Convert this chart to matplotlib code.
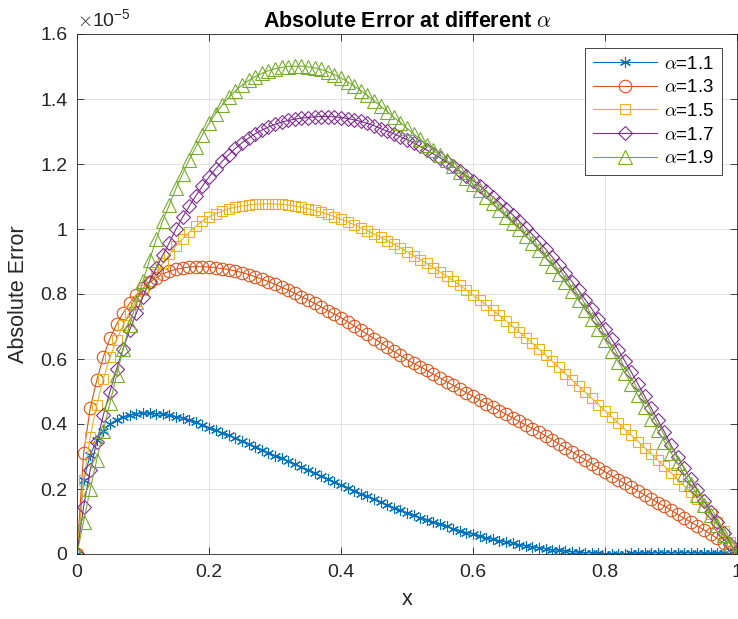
import matplotlib
matplotlib.use("Agg")
import matplotlib.pyplot as plt
import numpy as np

# x grid and absolute error values (in units of 1e-5)
x = np.linspace(0, 1, 101)
scale = 1e-5

err_11 = [
    0.000, 0.228, 0.305, 0.350, 0.380, 0.400, 0.413, 0.422, 0.428, 0.431,
    0.433, 0.433, 0.432, 0.430, 0.427, 0.423, 0.418, 0.412, 0.405, 0.397,
    0.389, 0.381, 0.373, 0.365, 0.356, 0.347, 0.339, 0.330, 0.321, 0.312,
    0.303, 0.294, 0.285, 0.276, 0.267, 0.258, 0.249, 0.240, 0.231, 0.222,
    0.213, 0.204, 0.195, 0.186, 0.177, 0.168, 0.160, 0.151, 0.143, 0.135,
    0.127, 0.119, 0.112, 0.105, 0.098, 0.091, 0.085, 0.078, 0.072, 0.066,
    0.061, 0.055, 0.050, 0.045, 0.041, 0.037, 0.033, 0.029, 0.025, 0.022,
    0.019, 0.016, 0.013, 0.011, 0.009, 0.007, 0.005, 0.004, 0.003, 0.002,
    0.001, 0.001, 0.001, 0.001, 0.002, 0.002, 0.002, 0.003, 0.003, 0.003,
    0.003, 0.003, 0.003, 0.003, 0.003, 0.002, 0.002, 0.002, 0.002, 0.001,
    0.000,
]
err_13 = [
    0.000, 0.310, 0.448, 0.535, 0.607, 0.664, 0.707, 0.742, 0.772, 0.797,
    0.818, 0.836, 0.850, 0.862, 0.870, 0.876, 0.880, 0.883, 0.884, 0.884,
    0.883, 0.881, 0.878, 0.875, 0.871, 0.866, 0.860, 0.853, 0.846, 0.838,
    0.830, 0.821, 0.812, 0.802, 0.792, 0.782, 0.771, 0.760, 0.749, 0.738,
    0.727, 0.715, 0.702, 0.689, 0.676, 0.663, 0.650, 0.637, 0.624, 0.611,
    0.598, 0.587, 0.576, 0.565, 0.553, 0.542, 0.530, 0.519, 0.508, 0.496,
    0.485, 0.474, 0.463, 0.452, 0.441, 0.430, 0.419, 0.408, 0.397, 0.386,
    0.376, 0.364, 0.352, 0.339, 0.327, 0.315, 0.302, 0.290, 0.278, 0.265,
    0.253, 0.241, 0.229, 0.217, 0.206, 0.194, 0.182, 0.170, 0.158, 0.147,
    0.135, 0.122, 0.110, 0.098, 0.086, 0.074, 0.061, 0.048, 0.034, 0.018,
    0.000,
]
err_15 = [
    0.000, 0.228, 0.360, 0.460, 0.540, 0.605, 0.660, 0.705, 0.745, 0.780,
    0.812, 0.840, 0.862, 0.894, 0.922, 0.948, 0.970, 0.990, 1.008, 1.024,
    1.037, 1.047, 1.055, 1.062, 1.067, 1.071, 1.074, 1.076, 1.077, 1.078,
    1.077, 1.076, 1.074, 1.071, 1.067, 1.062, 1.057, 1.051, 1.045, 1.038,
    1.030, 1.022, 1.013, 1.004, 0.995, 0.985, 0.975, 0.964, 0.953, 0.942,
    0.930, 0.918, 0.906, 0.894, 0.881, 0.868, 0.855, 0.841, 0.827, 0.812,
    0.797, 0.782, 0.766, 0.750, 0.734, 0.717, 0.700, 0.683, 0.666, 0.648,
    0.630, 0.612, 0.593, 0.574, 0.555, 0.536, 0.517, 0.498, 0.479, 0.460,
    0.441, 0.422, 0.403, 0.384, 0.365, 0.346, 0.327, 0.308, 0.289, 0.270,
    0.250, 0.230, 0.210, 0.190, 0.168, 0.145, 0.124, 0.100, 0.070, 0.037,
    0.000,
]
err_17 = [
    0.000, 0.146, 0.258, 0.346, 0.428, 0.500, 0.570, 0.632, 0.690, 0.742,
    0.792, 0.838, 0.880, 0.920, 0.958, 1.000, 1.036, 1.070, 1.102, 1.132,
    1.160, 1.185, 1.208, 1.229, 1.248, 1.265, 1.280, 1.293, 1.304, 1.314,
    1.322, 1.329, 1.334, 1.338, 1.341, 1.343, 1.345, 1.346, 1.346, 1.345,
    1.343, 1.340, 1.336, 1.331, 1.325, 1.318, 1.309, 1.301, 1.293, 1.284,
    1.275, 1.265, 1.254, 1.243, 1.231, 1.219, 1.206, 1.193, 1.179, 1.164,
    1.149, 1.133, 1.116, 1.099, 1.081, 1.063, 1.044, 1.024, 1.004, 0.983,
    0.961, 0.938, 0.914, 0.890, 0.864, 0.838, 0.811, 0.783, 0.754, 0.724,
    0.693, 0.661, 0.628, 0.594, 0.559, 0.523, 0.486, 0.449, 0.412, 0.376,
    0.335, 0.299, 0.264, 0.230, 0.196, 0.163, 0.130, 0.098, 0.065, 0.032,
    0.000,
]
err_19 = [
    0.000, 0.100, 0.200, 0.290, 0.380, 0.465, 0.550, 0.632, 0.705, 0.775,
    0.840, 0.905, 0.968, 1.025, 1.075, 1.125, 1.170, 1.213, 1.252, 1.290,
    1.325, 1.355, 1.382, 1.405, 1.425, 1.443, 1.457, 1.469, 1.479, 1.487,
    1.493, 1.497, 1.500, 1.501, 1.501, 1.499, 1.496, 1.491, 1.484, 1.475,
    1.465, 1.453, 1.440, 1.426, 1.411, 1.395, 1.378, 1.361, 1.344, 1.327,
    1.310, 1.293, 1.276, 1.259, 1.242, 1.227, 1.212, 1.194, 1.176, 1.157,
    1.138, 1.119, 1.099, 1.079, 1.058, 1.038, 1.019, 1.000, 0.979, 0.957,
    0.934, 0.911, 0.887, 0.862, 0.836, 0.809, 0.781, 0.752, 0.722, 0.691,
    0.659, 0.626, 0.592, 0.558, 0.523, 0.488, 0.452, 0.416, 0.381, 0.346,
    0.312, 0.279, 0.246, 0.214, 0.182, 0.151, 0.120, 0.090, 0.060, 0.030,
    0.000,
]

alphas = ["1.1", "1.3", "1.5", "1.7", "1.9"]
series = [err_11, err_13, err_15, err_17, err_19]

# MATLAB default line colours
colors = ["#0072BD", "#D95319", "#EDB120", "#7E2F8E", "#77AC30"]
markers = [(6, 2, 0), "o", "s", "D", "^"]
msizes = [8, 9, 7.5, 7, 9.5]

plt.rcParams["font.family"] = ["Liberation Sans", "DejaVu Sans"]
plt.rcParams["mathtext.fontset"] = "cm"

fig = plt.figure(figsize=(7.38, 6.19), dpi=100)
ax = fig.add_axes([77 / 738, 65 / 619, 660 / 738, 520 / 619])

for a, err, c, m, ms in zip(alphas, series, colors, markers, msizes):
    ax.plot(x, np.array(err) * scale, color=c, marker=m, markersize=ms,
            markerfacecolor="none", markeredgecolor=c, markeredgewidth=0.8,
            linewidth=0.8, label=r"$\alpha$=" + a)

dark = "#262626"
ax.set_xlim(0, 1)
ax.set_ylim(0, 1.6e-5)
xt = [0, 0.2, 0.4, 0.6, 0.8, 1]
yt = [0, 0.2, 0.4, 0.6, 0.8, 1, 1.2, 1.4, 1.6]
ax.set_xticks(xt)
ax.set_xticklabels(["%g" % v for v in xt])
ax.set_yticks([v * scale for v in yt])
ax.set_yticklabels(["%g" % v for v in yt])
ax.tick_params(direction="in", length=5, width=0.6, colors=dark,
               labelsize=14, top=True, right=True, pad=7)
for s in ax.spines.values():
    s.set_color(dark)
    s.set_linewidth(0.6)
ax.grid(True, color="#dedede", linewidth=0.6)
ax.set_axisbelow(True)

ax.text(0.0, 1.008, r"$\times\mathregular{10^{-5}}$", transform=ax.transAxes,
        fontsize=14, color=dark, ha="left", va="bottom")
ax.set_xlabel("x", fontsize=15.5, color=dark, labelpad=6)
ax.set_ylabel("Absolute Error", fontsize=15.5, color=dark, labelpad=8)
ax.set_title(r"Absolute Error at different $\alpha$", fontsize=15.5,
             fontweight="bold", color="black", pad=5)

leg = ax.legend(loc="upper right", bbox_to_anchor=(0.977, 0.973),
                borderaxespad=0, fontsize=13.5, numpoints=1,
                handlelength=3.4, fancybox=False, framealpha=1,
                edgecolor=dark, labelspacing=0.35, borderpad=0.4,
                handletextpad=0.4)
leg.get_frame().set_linewidth(0.6)

fig.savefig("out.png", dpi=100)
